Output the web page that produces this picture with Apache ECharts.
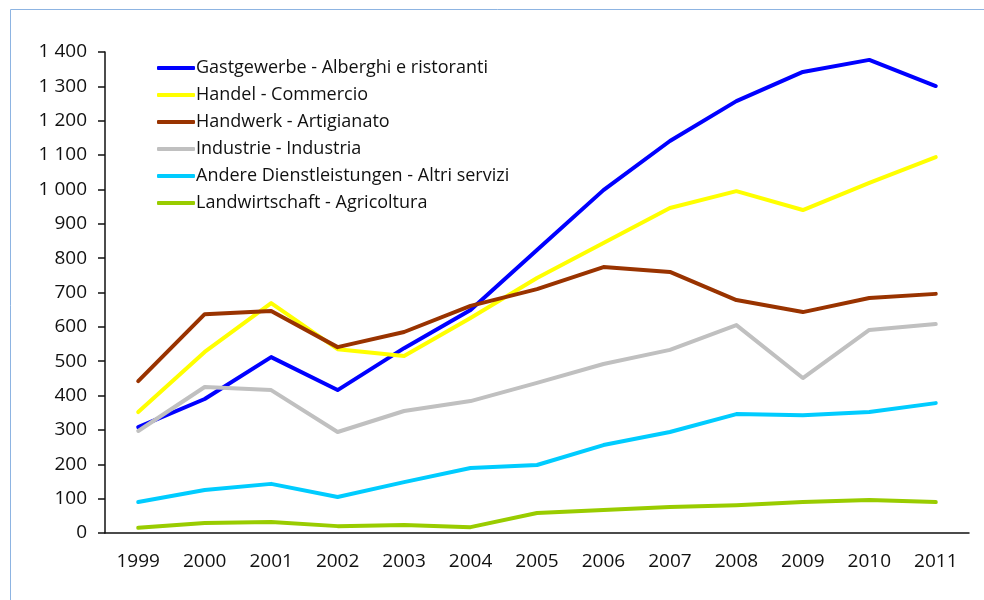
<!DOCTYPE html>
<html><head><meta charset="utf-8">
<script src="https://cdn.jsdelivr.net/npm/echarts@6/dist/echarts.min.js"></script>
<style>html,body{margin:0;padding:0;background:#fff}#c{width:984px;height:600px}</style>
</head><body><div id="c"></div>
<script>
const years = ['1999','2000','2001','2002','2003','2004','2005','2006','2007','2008','2009','2010','2011'];
const names = ['Gastgewerbe - Alberghi e ristoranti','Handel - Commercio','Handwerk - Artigianato','Industrie - Industria','Andere Dienstleistungen - Altri servizi','Landwirtschaft - Agricoltura'];
const gastgewerbe = [308,390,512,416,538,649,824,998,1141,1257,1342,1377,1301];
const handel = [352,527,669,535,515,626,742,844,946,995,940,1019,1094];
const handwerk = [442,637,646,541,585,661,710,774,760,678,643,684,696];
const industrie = [297,425,416,294,355,384,437,492,533,605,451,591,608];
const andere = [90,125,143,105,148,189,198,256,294,346,343,352,378];
const landwirtschaft = [15,29,32,20,23,17,58,67,76,81,90,96,90];
const colors = ['#0000FF','#FFFF00','#993300','#C0C0C0','#00CCFF','#99CC00'];
const values = [gastgewerbe,handel,handwerk,industrie,andere,landwirtschaft];
const font = 'Open Sans';
const chart = echarts.init(document.getElementById('c'));
chart.setOption({
  animation:false,
  graphic:[{type:'rect',shape:{x:10.5,y:9.5,width:1100,height:800},style:{fill:null,stroke:'#8DB4E2',lineWidth:1}}],
  grid:{left:105,right:15,top:52,bottom:67},
  legend:{orient:'vertical',left:152,top:54,itemWidth:38,itemHeight:4,itemGap:9,icon:'roundRect',
    textStyle:{fontFamily:font,fontSize:18,color:'#111',padding:[0,0,0,-4]},
    data:names},
  xAxis:{type:'category',data:years,boundaryGap:true,
    axisLine:{lineStyle:{color:'#111',width:1.5}},
    axisTick:{length:7,lineStyle:{color:'#111',width:1.5}},
    axisLabel:{color:'#111',fontFamily:font,fontSize:19,margin:19}},
  yAxis:{type:'value',min:0,max:1400,interval:100,
    axisLine:{show:true,lineStyle:{color:'#111',width:1.5}},
    axisTick:{show:true,length:7,lineStyle:{color:'#111',width:1.5}},
    splitLine:{show:false},
    axisLabel:{color:'#111',fontFamily:font,fontSize:19,margin:18,
      formatter:v=>v>=1000?Math.floor(v/1000)+' '+String(v%1000).padStart(3,'0'):String(v)}},
  series:names.map((n,i)=>({name:n,type:'line',data:values[i],showSymbol:false,symbol:'none',
    lineStyle:{color:colors[i],width:4,cap:'round',join:'round'},itemStyle:{color:colors[i]}}))
});
</script></body></html>
